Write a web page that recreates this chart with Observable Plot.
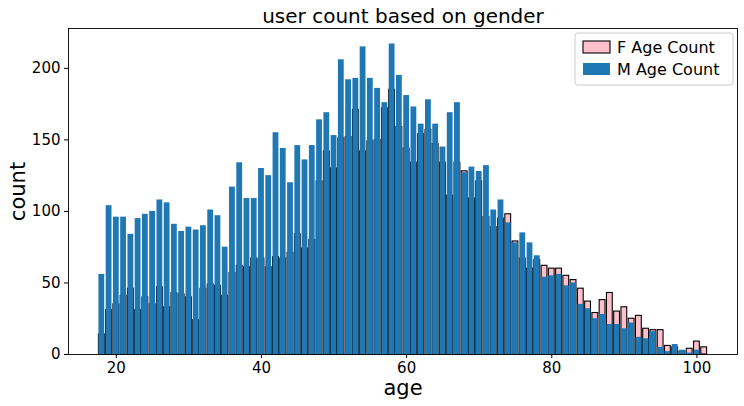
<!DOCTYPE html>
<html>
<head>
<meta charset="utf-8">
<script src="https://cdn.jsdelivr.net/npm/d3@7"></script>
<script src="https://cdn.jsdelivr.net/npm/@observablehq/plot@0.6"></script>
<style>
  html, body { margin: 0; padding: 0; background: #fff; }
  #chart { width: 744px; height: 406px; }
  svg { font-family: "DejaVu Sans", sans-serif; }
</style>
</head>
<body>
<div id="chart"></div>
<script>
const title = "user count based on gender";
const xLabel = "age";
const yLabel = "count";
const seriesNames = ["F Age Count", "M Age Count"];
const xTicks = [20, 40, 60, 80, 100];
const yTicks = [0, 50, 100, 150, 200];

const ages = [18, 19, 20, 21, 22, 23, 24, 25, 26, 27, 28, 29, 30, 31, 32, 33, 34, 35, 36, 37,
  38, 39, 40, 41, 42, 43, 44, 45, 46, 47, 48, 49, 50, 51, 52, 53, 54, 55, 56, 57,
  58, 59, 60, 61, 62, 63, 64, 65, 66, 67, 68, 69, 70, 71, 72, 73, 74, 75, 76, 77,
  78, 79, 80, 81, 82, 83, 84, 85, 86, 87, 88, 89, 90, 91, 92, 93, 94, 95, 96, 97,
  98, 99, 100, 101];

const fCounts = [14, 31, 35, 41, 46, 31, 40, 35, 47, 33, 43, 42, 40, 24, 46, 49, 48, 41, 57, 62,
  61, 67, 67, 61, 68, 67, 71, 84, 74, 80, 121, 142, 130, 151, 152, 171, 142, 149, 150, 172,
  185, 159, 144, 134, 154, 157, 147, 134, 111, 134, 128, 109, 121, 96, 89, 95, 98, 79, 67, 60,
  66, 62, 60, 60, 55, 52, 46, 37, 29, 38, 43, 30, 33, 25, 27, 18, 17, 17, 6, 5,
  2, 4, 9, 5];

const mCounts = [56, 104, 96, 96, 84, 95, 98, 100, 108, 106, 91, 86, 89, 87, 90, 101, 97, 75, 117, 134,
  109, 109, 130, 125, 155, 144, 120, 146, 136, 146, 164, 169, 153, 206, 192, 193, 215, 193, 186, 176,
  217, 195, 181, 173, 161, 178, 161, 145, 169, 176, 127, 131, 128, 132, 101, 108, 92, 78, 85, 78,
  69, 54, 55, 56, 48, 50, 35, 32, 25, 28, 21, 21, 18, 22, 12, 11, 16, 5, 2, 7,
  3, 1, 3, 0];

const colors = ["pink", "#1f77b4"];
const barWidth = 0.8;

const fData = ages.map((a, i) => ({age: a, count: fCounts[i]}));
const mData = ages.map((a, i) => ({age: a, count: mCounts[i]}));

const xMin = d3.min(ages) - barWidth / 2, xMax = d3.max(ages) + barWidth / 2;
const xPad = (xMax - xMin) * 0.05;
const yMax = d3.max([...fCounts, ...mCounts]) * 1.05;

const chart = Plot.plot({
  width: 744,
  height: 406,
  marginLeft: 68,
  marginRight: 7,
  marginTop: 28,
  marginBottom: 52,
  style: {fontFamily: "DejaVu Sans, sans-serif", color: "#000", background: "#fff"},
  x: {domain: [xMin - xPad, xMax + xPad]},
  y: {domain: [0, yMax]},
  marks: [
    Plot.rectY(fData, {x1: d => d.age - barWidth / 2, x2: d => d.age + barWidth / 2, y: "count",
      fill: colors[0], stroke: "#000", strokeWidth: 1.1}),
    Plot.rectY(mData, {x1: d => d.age - barWidth / 2, x2: d => d.age + barWidth / 2, y: "count",
      fill: colors[1]}),
    Plot.frame({stroke: "#000", strokeWidth: 0.9}),
    Plot.axisX({ticks: xTicks, tickSize: 4, tickPadding: 4, fontSize: 15, label: null, stroke: "#000", tickFormat: d3.format("d")}),
    Plot.axisY({ticks: yTicks, tickSize: 4, tickPadding: 4, fontSize: 15, label: null, stroke: "#000", tickFormat: d3.format("d")}),
    Plot.text([xLabel], {frameAnchor: "bottom", dy: 40, fontSize: 21, fill: "#000"}),
    Plot.text([yLabel], {frameAnchor: "left", dx: -50, rotate: -90, textAnchor: "middle", fontSize: 21, fill: "#000"}),
    Plot.text([title], {frameAnchor: "top", dy: -20, fontSize: 20, fill: "#000"})
  ]
});

document.getElementById("chart").appendChild(chart);

// Legend (upper right, inside axes)
const svg = d3.select(chart);
const lg = svg.append("g").attr("transform", "translate(575,33)").attr("text-anchor", "start");
lg.append("rect").attr("x", 0).attr("y", 0).attr("width", 158).attr("height", 52)
  .attr("rx", 3).attr("fill", "#fff").attr("fill-opacity", 0.8).attr("stroke", "#ccc");
seriesNames.forEach((name, i) => {
  const gy = 8 + i * 22;
  lg.append("rect").attr("x", 8).attr("y", gy).attr("width", 27).attr("height", 12)
    .attr("fill", colors[i]).attr("stroke", i === 0 ? "#000" : "none").attr("stroke-width", 1.1);
  lg.append("text").attr("x", 42).attr("y", gy + 6).attr("dy", "0.36em")
    .attr("text-anchor", "start").attr("font-size", 16).attr("fill", "#000").text(name);
});
</script>
</body>
</html>
